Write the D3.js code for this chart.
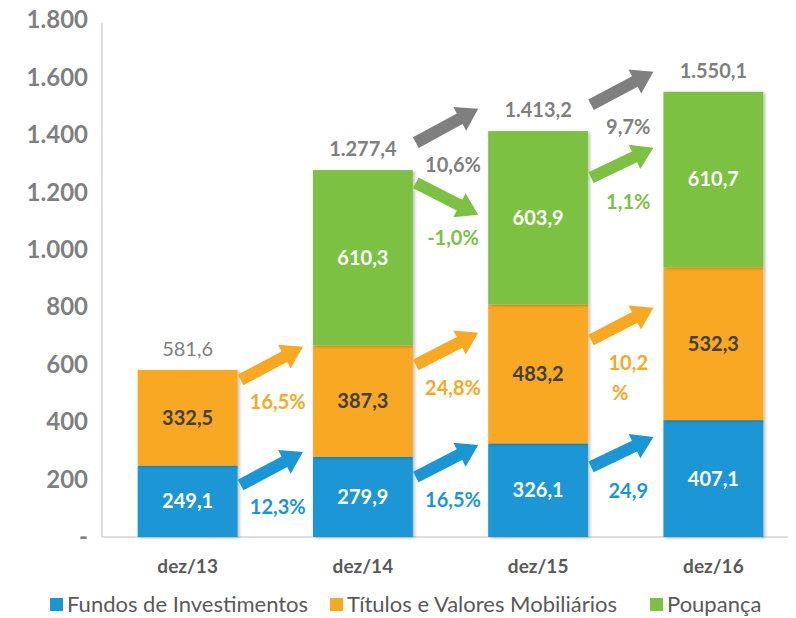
<!DOCTYPE html>
<html>

<head>
    <meta charset='utf-8'>
    <title>Fundos, Títulos e Poupança</title>
    <script src='https://d3js.org/d3.v7.min.js'></script>
    <style>
        body { margin: 0; background: #fff; }
        text { font-family: Lato, 'Open Sans', sans-serif; }
    </style>
</head>

<body>
    <script>
        // chart values
        const categories = ['dez/13', 'dez/14', 'dez/15', 'dez/16'];
        const fundos = [249.1, 279.9, 326.1, 407.1];
        const titulos = [332.5, 387.3, 483.2, 532.3];
        const poupanca = [0, 610.3, 603.9, 610.7];
        const totals = [581.6, 1277.4, 1413.2, 1550.1];
        const seriesNames = ['Fundos de Investimentos', 'Títulos e Valores Mobiliários', 'Poupança'];
        const yTicks = [0, 200, 400, 600, 800, 1000, 1200, 1400, 1600, 1800];

        // growth arrows: gap index (between bar i and i+1), start value, end value, label
        const blueArrows = [[0, 181, 296, '12,3%'], [1, 209, 320, '16,5%'], [2, 244, 348, '24,9']];
        const orangeArrows = [[0, 547, 662, '16,5%'], [1, 599, 711, '24,8%'], [2, 686, 798, '10,2\n%']];
        const greenArrows = [[1, 1233, 1122, '-1,0%'], [2, 1251, 1355, '1,1%']];
        const grayArrows = [[1, 1373, 1491, '10,6%'], [2, 1505, 1620, '9,7%']];

        const colors = ['#1a96d4', '#f8a823', '#7cc143'];
        const gray = '#7f7f7f';

        const width = 796, height = 618;

        const svg = d3.select('body')
            .append('svg')
            .attr('width', width)
            .attr('height', height);

        const x = d3.scaleBand()
            .domain(categories)
            .range([100, 801])
            .paddingInner(0.43)
            .paddingOuter(0.215);

        const y = d3.scaleLinear()
            .domain([0, 1800])
            .range([537, 20]);

        const pt = d3.formatLocale({ decimal: ',', thousands: '.', grouping: [3], currency: ['R$', ''] });
        const fmtTick = d => d === 0 ? '-' : pt.format(',')(d);
        const fmtVal = pt.format(',.1f');

        // soft shadow for the bars
        const defs = svg.append('defs');
        const filter = defs.append('filter').attr('id', 'shadow')
            .attr('x', '-10%').attr('y', '-10%').attr('width', '130%').attr('height', '130%');
        filter.append('feDropShadow')
            .attr('dx', 2).attr('dy', 1).attr('stdDeviation', 1.5)
            .attr('flood-color', '#000').attr('flood-opacity', 0.25);

        // y axis
        const yAxis = d3.axisLeft(y).tickValues(yTicks).tickFormat(fmtTick).tickSize(0).tickPadding(14);
        const gy = svg.append('g')
            .attr('transform', 'translate(102,0)')
            .call(yAxis);
        gy.select('.domain').attr('stroke', '#bfbfbf').attr('d', 'M0,' + y(1790) + 'V' + y(0));
        gy.selectAll('text')
            .attr('fill', gray)
            .attr('font-size', '24px')
            .attr('font-weight', 'bold');

        // baseline
        svg.append('line')
            .attr('x1', 102).attr('x2', 788)
            .attr('y1', y(0)).attr('y2', y(0))
            .attr('stroke', '#bfbfbf');

        // stacked bars
        const rows = categories.map((c, i) => ({ cat: c, f: fundos[i], t: titulos[i], p: poupanca[i] }));
        const stacked = d3.stack().keys(['f', 't', 'p'])(rows);

        const layers = svg.selectAll('.layer')
            .data(stacked)
            .enter()
            .append('g')
            .attr('class', 'layer')
            .attr('fill', (d, i) => colors[i]);

        layers.selectAll('rect')
            .data(d => d.filter(s => s[1] - s[0] > 0))
            .enter()
            .append('rect')
            .attr('x', d => x(d.data.cat))
            .attr('width', x.bandwidth())
            .attr('y', d => y(d[1]))
            .attr('height', d => y(d[0]) - y(d[1]))
            .attr('filter', 'url(#shadow)');

        // values inside segments
        layers.each(function (layer, li) {
            d3.select(this).selectAll('.seg-label')
                .data(layer.filter(s => s[1] - s[0] > 0))
                .enter()
                .append('text')
                .attr('class', 'seg-label')
                .attr('x', d => x(d.data.cat) + x.bandwidth() / 2)
                .attr('y', d => y((d[0] + d[1]) / 2))
                .attr('dy', '0.35em')
                .attr('text-anchor', 'middle')
                .attr('font-size', '20px')
                .attr('font-weight', 'bold')
                .attr('fill', li === 1 ? '#404040' : '#fff')
                .text(d => fmtVal(d[1] - d[0]));
        });

        // totals above bars
        svg.selectAll('.total')
            .data(totals)
            .enter()
            .append('text')
            .attr('class', 'total')
            .attr('x', (d, i) => x(categories[i]) + x.bandwidth() / 2)
            .attr('y', d => y(d) - 14)
            .attr('text-anchor', 'middle')
            .attr('font-size', '20px')
            .attr('font-weight', (d, i) => i === 0 ? 'normal' : 'bold')
            .attr('fill', gray)
            .text(d => fmtVal(d));

        // category labels
        svg.selectAll('.cat')
            .data(categories)
            .enter()
            .append('text')
            .attr('class', 'cat')
            .attr('x', d => x(d) + x.bandwidth() / 2)
            .attr('y', 573)
            .attr('text-anchor', 'middle')
            .attr('font-size', '19px')
            .attr('font-weight', 'bold')
            .attr('fill', '#595959')
            .text(d => d);

        // block arrow shape from (x1,y1) to tip (x2,y2)
        function arrowPath(x1, y1, x2, y2) {
            const shaft = 12, headW = 27, headL = 21;
            const len = Math.hypot(x2 - x1, y2 - y1);
            const ux = (x2 - x1) / len, uy = (y2 - y1) / len;
            const nx = -uy, ny = ux;
            const bx = x2 - ux * headL, by = y2 - uy * headL;
            const pts = [
                [x1 + nx * shaft / 2, y1 + ny * shaft / 2],
                [bx + nx * shaft / 2, by + ny * shaft / 2],
                [bx + nx * headW / 2, by + ny * headW / 2],
                [x2, y2],
                [bx - nx * headW / 2, by - ny * headW / 2],
                [bx - nx * shaft / 2, by - ny * shaft / 2],
                [x1 - nx * shaft / 2, y1 - ny * shaft / 2]
            ];
            return 'M' + pts.map(p => p.join(',')).join('L') + 'Z';
        }

        function drawArrows(list, color) {
            const g = svg.append('g');
            list.forEach(a => {
                const gap = a[0];
                const x1 = x(categories[gap]) + x.bandwidth() + 3;
                const x2 = x(categories[gap + 1]) - 10;
                const y1 = y(a[1]), y2 = y(a[2]);
                g.append('path')
                    .attr('d', arrowPath(x1, y1, x2, y2))
                    .attr('fill', color);

                const lines = a[3].split('\n');
                const cx = (x1 + x2) / 2 + 6;
                const t = g.append('text')
                    .attr('x', cx)
                    .attr('y', (y1 + y2) / 2 + 46)
                    .attr('text-anchor', 'middle')
                    .attr('font-size', '20px')
                    .attr('font-weight', 'bold')
                    .attr('fill', color);
                lines.forEach((l, k) => {
                    t.append('tspan')
                        .attr('x', cx - (k > 0 ? 8 : 0))
                        .attr('dy', k === 0 ? 0 : '1.5em')
                        .text(l);
                });
            });
        }

        drawArrows(blueArrows, colors[0]);
        drawArrows(orangeArrows, colors[1]);
        drawArrows(greenArrows, colors[2]);
        drawArrows(grayArrows, gray);

        // legend
        const legend = svg.append('g').attr('transform', 'translate(0,604)');
        const legendX = [50, 330, 650];
        seriesNames.forEach((name, i) => {
            legend.append('rect')
                .attr('x', legendX[i]).attr('y', -6)
                .attr('width', 13).attr('height', 13)
                .attr('fill', colors[i]);
            legend.append('text')
                .attr('x', legendX[i] + 17)
                .attr('y', 0)
                .attr('dy', '0.35em')
                .attr('font-size', '22px')
                .attr('fill', '#595959')
                .text(name);
        });
    </script>
</body>

</html>
